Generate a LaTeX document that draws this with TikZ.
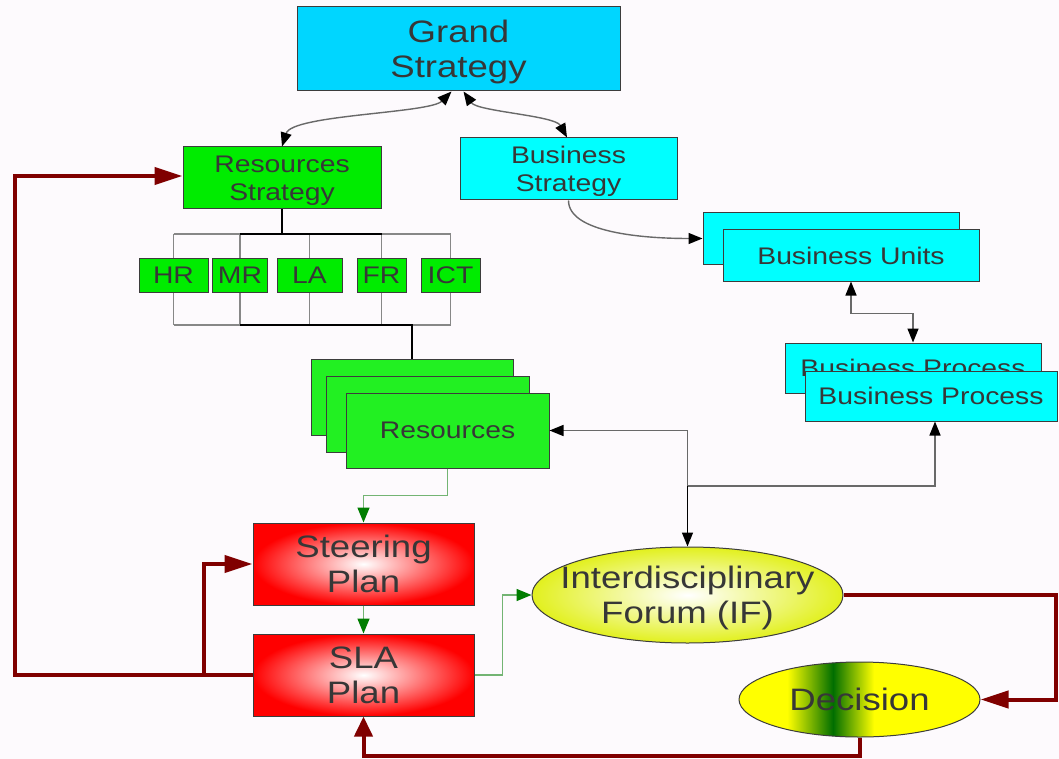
\documentclass[tikz,border=0pt]{standalone}
\usepackage{fontspec}
\setmainfont[FakeStretch=1.18]{Liberation Sans}
\usetikzlibrary{arrows.meta,shapes.geometric,backgrounds}

\definecolor{pagebg}{RGB}{253,250,253}
\definecolor{txt}{RGB}{55,55,55}
\definecolor{edge}{RGB}{60,60,60}
\definecolor{grandfill}{RGB}{0,214,255}
\definecolor{cyanfill}{RGB}{0,255,255}
\definecolor{greenfill}{RGB}{0,236,0}
\definecolor{resfill}{RGB}{34,240,34}
\definecolor{redplan}{RGB}{255,0,0}
\definecolor{iffill}{RGB}{226,240,30}
\definecolor{decyellow}{RGB}{255,255,0}
\definecolor{decgreen}{RGB}{0,110,0}
\definecolor{linkgray}{RGB}{105,105,105}
\definecolor{treegray}{RGB}{135,135,135}
\definecolor{glink}{RGB}{115,180,115}
\definecolor{gtip}{RGB}{0,125,0}
\definecolor{loopred}{RGB}{128,0,0}

% yellow - dark green band - yellow, across the decision ellipse
\pgfdeclarehorizontalshading{decshade}{100bp}{color(0bp)=(decyellow); color(35bp)=(decyellow); color(44.5bp)=(decgreen); color(53bp)=(decyellow); color(100bp)=(decyellow)}

\tikzset{
  box/.style={draw=edge, line width=1pt, text=txt, align=center, inner sep=0pt, text depth=0pt, rectangle},
  small/.style={font=\fontsize{24}{28}\selectfont},
  big/.style={font=\fontsize{31}{35}\selectfont},
  plan/.style={box, big, inner color=white, outer color=redplan, minimum width=221pt, minimum height=82pt},
  link/.style={draw=linkgray, line width=1.4pt},
  tipk/.tip={Triangle[length=14pt,width=11pt,color=black]},
  glinkst/.style={draw=glink, line width=1.5pt},
  tipg/.tip={Triangle[length=15pt,width=12pt,color=gtip]},
  redloop/.style={draw=loopred, line width=4pt},
  tipr/.tip={Triangle[length=28pt,width=17pt,color=loopred]},
  tiprs/.tip={Triangle[length=20pt,width=18pt,color=loopred]},
  treeg/.style={draw=treegray, line width=1.5pt},
  treek/.style={draw=black, line width=2pt},
}

\begin{document}
\begin{tikzpicture}[x=1pt,y=-1pt]
\useasboundingbox (0,0) rectangle (1059,759);
\begin{scope}[on background layer]
  \fill[pagebg] (0,0) rectangle (1059,759);
\end{scope}

% strategy level
\node[box, big, fill=grandfill, minimum width=323pt, minimum height=84pt] (gs) at (458.5,49) {Grand\\Strategy};
\node[box, small, fill=greenfill, minimum width=198pt, minimum height=62pt] (rs) at (282,178) {Resources\\Strategy};
\node[box, small, fill=cyanfill, minimum width=217pt, minimum height=62pt] (bs) at (568.5,169) {Business\\Strategy};

% resource kinds
\node[box, small, fill=greenfill, minimum width=69pt, minimum height=34pt] (hr) at (173.5,275.5) {HR};
\node[box, small, fill=greenfill, minimum width=55pt, minimum height=34pt] (mr) at (240,275.5) {MR};
\node[box, small, fill=greenfill, minimum width=65pt, minimum height=34pt] (la) at (309.5,275.5) {LA};
\node[box, small, fill=greenfill, minimum width=49pt, minimum height=34pt] (fr) at (381.5,275.5) {FR};
\node[box, small, fill=greenfill, minimum width=59pt, minimum height=34pt] (ict) at (450.5,275.5) {ICT};

% stacked resources
\node[box, small, fill=resfill, minimum width=202pt, minimum height=76pt] (res1) at (412,397) {};
\node[box, small, fill=resfill, minimum width=203pt, minimum height=76pt] (res2) at (427.5,414) {};
\node[box, small, fill=resfill, minimum width=203pt, minimum height=75pt] (res3) at (447.5,430.5) {Resources};

% stacked business units and processes
\node[box, small, fill=cyanfill, minimum width=256pt, minimum height=51pt] (bu1) at (831,238.5) {Business Units};
\node[box, small, fill=cyanfill, minimum width=256pt, minimum height=51pt] (bu2) at (851,255.5) {Business Units};
\node[box, small, fill=cyanfill, minimum width=256pt, minimum height=50pt] (bp1) at (913,368) {Business Process};
\node[box, small, fill=cyanfill, minimum width=252pt, minimum height=50pt] (bp2) at (931,396) {Business Process};

% plans
\node[plan] (sp) at (363.5,564) {Steering\\Plan};
\node[plan] (sla) at (363.5,675) {SLA\\Plan};

% forum and decision
\node[ellipse, draw=edge, line width=1pt, inner sep=0pt, inner color=white, outer color=iffill, minimum width=311pt, minimum height=96pt] (if) at (687.5,595) {};
\node[text=txt, big, align=center, inner sep=0pt, text depth=0pt] (iftext) at (if.center) {Interdisciplinary\\Forum (IF)};
\node[ellipse, draw=edge, line width=1pt, inner sep=0pt, shading=decshade, minimum width=241pt, minimum height=75pt] (dec) at (859.5,699.5) {};
\node[text=txt, big, inner sep=0pt] (dectext) at (dec.center) {Decision};

% organisation lines behind the resource kinds
\coordinate (bartop) at (0,234);
\coordinate (barbot) at (0,325);
\begin{scope}[on background layer]
  \foreach \n in {hr,mr,la,fr,ict}
    \draw[treeg] (\n |- bartop) -- (\n |- barbot);
  \draw[treeg] (hr |- bartop) -- (ict |- bartop);
  \draw[treeg] (hr |- barbot) -- (ict |- barbot);
  \draw[treek] (rs.south) -- (rs.south |- bartop);
  \draw[treek] (mr |- bartop) -- (fr |- bartop);
  \draw[treek] (mr |- barbot) -| (res1.north);
\end{scope}

% strategy links
\draw[link, tipk-tipk] ([xshift=-7pt]gs.south) .. controls +(-22,22) and +(10,-32) .. (rs.north);
\draw[link, tipk-tipk] ([xshift=5pt]gs.south) .. controls +(14,20) and +(-12,-22) .. ([xshift=-1.5pt]bs.north);
\draw[link, -tipk] (bs.south) .. controls +(0,32) and +(-60,0) .. (bu1.west);
\draw[link, tipk-tipk] (bu2.south) -- ++(0,32) -| (bp1.north);

% forum links
\coordinate (junc) at (687.5,486);
\draw[link, -tipk] (junc) |- (res3.east);
\draw[link, -tipk] (junc) -| ([xshift=4pt]bp2.south);
\draw[draw=black, line width=1.4pt, -tipk] (junc) -- (if.north);

% planning flow
\draw[glinkst, -tipg] (res3.south) -- ++(0,27) -| (sp.north);
\draw[glinkst, -tipg] (sp.south) -- (sla.north);
\draw[glinkst, -tipg] (sla.east) -- ++(28,0) |- (if.west);

% feedback loops
\draw[redloop, -tipr] (sla.west) -- ++(-238,0) |- ([yshift=2pt]rs.west);
\draw[redloop, -tipr] ([xshift=-49pt]sla.west) |- (sp.west);
\draw[redloop, -tipr] (if.east) -- ++(212,0) |- (dec.east);
\draw[redloop, -tiprs] (dec.south) -- ++(0,18) -| (sla.south);
\end{tikzpicture}
\end{document}
